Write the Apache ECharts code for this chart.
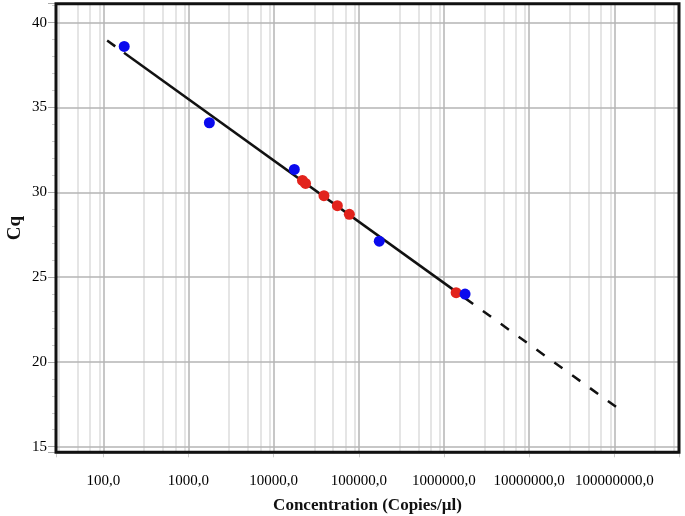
<!DOCTYPE html>
<html><head><meta charset="utf-8">
<script src="https://cdn.jsdelivr.net/npm/echarts@6/dist/echarts.min.js"></script>
<style>html,body{margin:0;padding:0;background:#fff}#c{width:685px;height:516px}</style>
</head><body><div id="c"></div>
<script>
// Tick labels of the log x axis
const xTickValues = [100, 1000, 10000, 100000, 1000000, 10000000, 100000000];
const xTickLabels = ['100,0', '1000,0', '10000,0', '100000,0', '1000000,0', '10000000,0', '100000000,0'];
// Minor vertical grid lines (3,5,7,9 x decade)
const xMinorGrid = [30, 50, 70, 90, 300, 500, 700, 900, 3000, 5000, 7000, 9000,
  30000, 50000, 70000, 90000, 300000, 500000, 700000, 900000,
  3000000, 5000000, 7000000, 9000000, 30000000, 50000000, 70000000, 90000000,
  300000000, 500000000];
// Standards (blue)
const stdConc = [176, 1760, 17500, 174000, 1770000];
const stdCq = [38.6, 34.1, 31.35, 27.12, 24.0];
// Samples (red)
const smpConc = [21800, 23700, 39000, 56000, 77500, 1390000];
const smpCq = [30.7, 30.52, 29.8, 29.21, 28.7, 24.08];
// Regression line (read endpoints)
const fitSolidConc = [175, 1770000];
const fitSolidCq = [38.23, 23.76];
const fitLeftConc = [111, 175];
const fitLeftCq = [38.95, 38.23];
const fitRightConc = [1770000, 131000000];
const fitRightCq = [23.76, 17.0];

const pairs = (xs, ys) => xs.map((x, i) => [x, ys[i]]);
const serif = '"Liberation Serif", "Times New Roman", serif';

const chart = echarts.init(document.getElementById('c'), null, {renderer: 'canvas'});
chart.setOption({
  animation: false,
  backgroundColor: '#fff',
  grid: {left: 56, right: 6, top: 3.7, bottom: 63.7, containLabel: false, outerBoundsMode: 'none',
    show: true, borderColor: '#111', borderWidth: 3, backgroundColor: 'transparent', z: 40},
  xAxis: {
    type: 'log', logBase: 10, min: 27.84, max: 575400000, z: 1,
    name: 'Concentration (Copies/\u00b5l)', nameLocation: 'middle', nameGap: 45, nameMoveOverlap: false,
    nameTextStyle: {fontFamily: serif, fontWeight: 'bold', fontSize: 17, color: '#111'},
    axisLine: {show: false},
    axisTick: {show: true, length: 5, lineStyle: {color: '#ccc'}},
    axisLabel: {
      margin: 21, fontFamily: serif, fontSize: 15, color: '#000',
      formatter: v => {
        const i = xTickValues.findIndex(t => Math.abs(Math.log10(v) - Math.log10(t)) < 1e-6);
        return i >= 0 ? xTickLabels[i] : '';
      }
    },
    splitLine: {show: true, lineStyle: {color: '#b4b4b4', width: 1.5}},
    minorTick: {show: false}, minorSplitLine: {show: false}
  },
  yAxis: {
    type: 'value', min: 14.67, max: 41.12, splitNumber: 5, z: 1,
    name: 'Cq', nameLocation: 'middle', nameGap: 31, nameMoveOverlap: false,
    nameTextStyle: {fontFamily: serif, fontWeight: 'bold', fontSize: 19, color: '#111'},
    axisLine: {show: false},
    axisTick: {show: true, length: 8, lineStyle: {color: '#aaa'}},
    minorTick: {show: true, splitNumber: 5, length: 4, lineStyle: {color: '#ccc'}},
    axisLabel: {
      margin: 9, fontFamily: serif, fontSize: 15, color: '#000',
      formatter: v => (Math.abs(v / 5 - Math.round(v / 5)) < 1e-6 ? String(Math.round(v)) : '')
    },
    splitLine: {show: true, lineStyle: {color: '#b4b4b4', width: 1.5}}
  },
  series: [
    {
      type: 'line', data: [], z: 0, silent: true,
      markLine: {
        silent: true, symbol: 'none', animation: false, z: 0,
        label: {show: false},
        lineStyle: {color: '#dcdcdc', width: 1.5, type: 'solid'},
        data: xMinorGrid.map(v => ({xAxis: v}))
      }
    },
    {type: 'line', data: pairs(fitLeftConc, fitLeftCq), showSymbol: false, symbol: 'none', z: 30,
      lineStyle: {color: '#111', width: 2.5, type: [10, 12]}},
    {type: 'line', data: pairs(fitRightConc, fitRightCq), showSymbol: false, symbol: 'none', z: 30,
      lineStyle: {color: '#111', width: 2.5, type: [10, 12]}},
    {type: 'line', data: pairs(fitSolidConc, fitSolidCq), showSymbol: false, symbol: 'none', z: 30,
      lineStyle: {color: '#111', width: 2.5, type: 'solid'}},
    {type: 'scatter', data: pairs(smpConc, smpCq), symbolSize: 11, z: 31,
      itemStyle: {color: '#e2231c', opacity: 1}},
    {type: 'scatter', data: pairs(stdConc, stdCq), symbolSize: 11, z: 32,
      itemStyle: {color: '#0a0aee', opacity: 1}}
  ]
});
</script>
</body></html>
